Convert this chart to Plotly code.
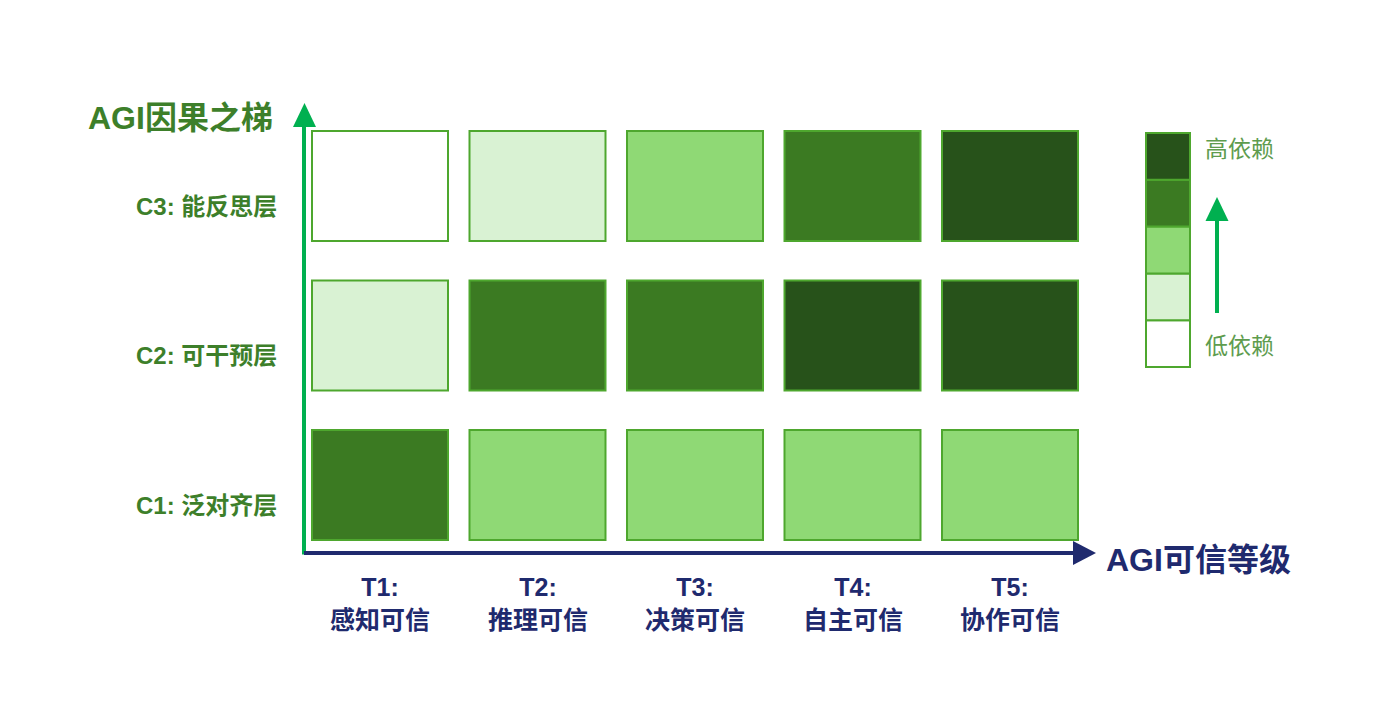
import plotly.graph_objects as go

# ---- data ----
x_categories = ["T1", "T2", "T3", "T4", "T5"]
x_names = ["感知可信", "推理可信", "决策可信", "自主可信", "协作可信"]
y_categories = ["C1: 泛对齐层", "C2: 可干预层", "C3: 能反思层"]  # bottom -> top
# dependency level 0 (low) .. 4 (high); rows follow y_categories
level_C1 = [3, 2, 2, 2, 2]
level_C2 = [1, 3, 3, 4, 4]
level_C3 = [0, 1, 2, 3, 4]
levels = [level_C1, level_C2, level_C3]
level_colors = ["#ffffff", "#d9f2d3", "#8fd975", "#3b7a22", "#27521a"]
legend_high = "高依赖"
legend_low = "低依赖"
x_title = "AGI可信等级"
y_title = "AGI因果之梯"

# ---- layout helpers (pixel -> axis units) ----
W, H = 1400, 723
X0PX, DXPX = 380.0, 157.5   # pixel centre of column 0 and spacing
Y0PX, DYPX = 485.0, 149.5   # pixel centre of row 0 and spacing


def px2x(p):
    return (p - X0PX) / DXPX


def px2y(p):
    return (Y0PX - p) / DYPX


FONT = "Liberation Sans, Noto Sans CJK SC, sans-serif"
GREEN_TXT = "#3d7f2a"
NAVY = "#1f2a6e"
AXIS_GREEN = "#00b050"
BORDER = "#4ea72e"

fig = go.Figure()
shapes = []
annotations = []

half_w = 68 / DXPX
half_h = 55 / DYPX
hx, hy, ht = [], [], []
for r, row in enumerate(levels):
    for c, lv in enumerate(row):
        shapes.append(dict(type="rect", xref="x", yref="y",
                           x0=c - half_w, x1=c + half_w, y0=r - half_h, y1=r + half_h,
                           fillcolor=level_colors[lv], line=dict(color=BORDER, width=2),
                           layer="below"))
        hx.append(c)
        hy.append(r)
        ht.append(f"{x_categories[c]} {x_names[c]}<br>{y_categories[r]}<br>level {lv}")

fig.add_trace(go.Scatter(x=hx, y=hy, mode="markers", marker=dict(opacity=0, size=40),
                         text=ht, hoverinfo="text", showlegend=False))

# axes lines
ax_x = px2x(304)
ax_y = px2y(553)
shapes.append(dict(type="line", xref="x", yref="y", x0=ax_x, x1=ax_x, y0=ax_y - 1.5 / DYPX,
                   y1=px2y(120), line=dict(color=AXIS_GREEN, width=4)))
shapes.append(dict(type="line", xref="x", yref="y", x0=ax_x, x1=px2x(1078), y0=ax_y, y1=ax_y,
                   line=dict(color=NAVY, width=4)))
# arrowheads
shapes.append(dict(type="path", xref="x", yref="y",
                   path=f"M {px2x(293)} {px2y(127)} L {px2x(316)} {px2y(127)} L {px2x(304.5)} {px2y(103)} Z",
                   fillcolor=AXIS_GREEN, line=dict(width=0)))
shapes.append(dict(type="path", xref="x", yref="y",
                   path=f"M {px2x(1073)} {px2y(541)} L {px2x(1073)} {px2y(565)} L {px2x(1096)} {px2y(553)} Z",
                   fillcolor=NAVY, line=dict(width=0)))

# y tick labels (sit a little below the row centre, as in the reference)
label_drop = 20 / DYPX
for r, lab in enumerate(y_categories):
    annotations.append(dict(x=px2x(279), y=r - label_drop, xref="x", yref="y", text=lab,
                            showarrow=False, xanchor="right", yanchor="middle",
                            font=dict(family=FONT, size=24, color=GREEN_TXT, weight="bold")))
# x tick labels
for c in range(len(x_categories)):
    annotations.append(dict(x=c, y=px2y(603), xref="x", yref="y",
                            text=f"{x_categories[c]}:<br>{x_names[c]}", showarrow=False,
                            xanchor="center", yanchor="middle",
                            font=dict(family=FONT, size=25, color=NAVY, weight="bold")))
# axis titles
annotations.append(dict(x=px2x(86), y=px2y(118), xref="x", yref="y", text=y_title, showarrow=False,
                        xanchor="left", yanchor="middle",
                        font=dict(family=FONT, size=32, color=GREEN_TXT, weight="bold")))
annotations.append(dict(x=px2x(1104), y=px2y(560), xref="x", yref="y", text=x_title, showarrow=False,
                        xanchor="left", yanchor="middle",
                        font=dict(family=FONT, size=32, color=NAVY, weight="bold")))

# legend
lg_cx = px2x(1168)
lg_hw = 22 / DXPX
lg_top, lg_bot = 133.0, 367.0
step = (lg_bot - lg_top) / len(level_colors)
for i, col in enumerate(level_colors):
    p_top = lg_bot - (i + 1) * step
    p_bot = lg_bot - i * step
    shapes.append(dict(type="rect", xref="x", yref="y", x0=lg_cx - lg_hw, x1=lg_cx + lg_hw,
                       y0=px2y(p_bot), y1=px2y(p_top), fillcolor=col,
                       line=dict(color=BORDER, width=2)))
shapes.append(dict(type="line", xref="x", yref="y", x0=px2x(1217), x1=px2x(1217),
                   y0=px2y(313), y1=px2y(215), line=dict(color=AXIS_GREEN, width=4)))
shapes.append(dict(type="path", xref="x", yref="y",
                   path=f"M {px2x(1205.5)} {px2y(221)} L {px2x(1228.5)} {px2y(221)} L {px2x(1217)} {px2y(197)} Z",
                   fillcolor=AXIS_GREEN, line=dict(width=0)))
annotations.append(dict(x=px2x(1203), y=px2y(149), xref="x", yref="y", text=legend_high,
                        showarrow=False, xanchor="left", yanchor="middle",
                        font=dict(family=FONT, size=23, color="#5e9c4e")))
annotations.append(dict(x=px2x(1203), y=px2y(346), xref="x", yref="y", text=legend_low,
                        showarrow=False, xanchor="left", yanchor="middle",
                        font=dict(family=FONT, size=23, color="#5e9c4e")))

fig.update_layout(
    width=W, height=H, margin=dict(l=0, r=0, t=0, b=0),
    paper_bgcolor="white", plot_bgcolor="white",
    xaxis=dict(range=[px2x(0), px2x(W)], visible=False, fixedrange=True),
    yaxis=dict(range=[px2y(H), px2y(0)], visible=False, fixedrange=True),
    shapes=shapes, annotations=annotations, showlegend=False,
)

fig.write_html("out.html")
